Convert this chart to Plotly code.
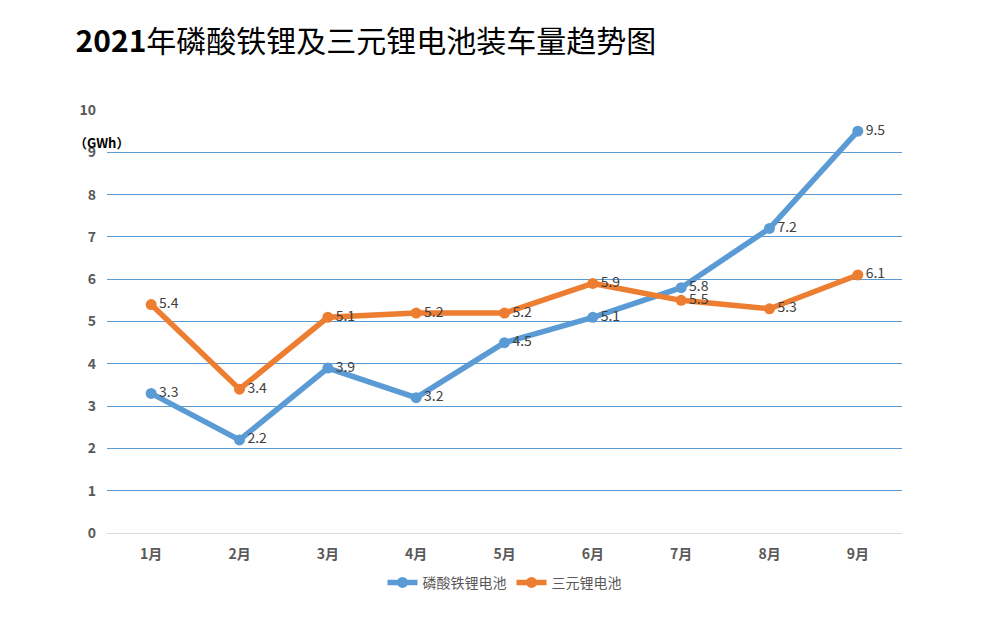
import plotly.graph_objects as go

months = ["1月","2月","3月","4月","5月","6月","7月","8月","9月"]
lfp = [3.3,2.2,3.9,3.2,4.5,5.1,5.8,7.2,9.5]
ncm = [5.4,3.4,5.1,5.2,5.2,5.9,5.5,5.3,6.1]
names = ["磷酸铁锂电池","三元锂电池"]
colors = ["#5B9BD5","#ED7D31"]

fig = go.Figure()
for name, vals, c in [(names[0], lfp, colors[0]), (names[1], ncm, colors[1])]:
    fig.add_trace(go.Scatter(x=months, y=vals, name=name, mode="lines+markers+text",
        line=dict(color=c, width=5.5), marker=dict(size=11, color=c),
        text=[str(v) for v in vals], textposition="middle right",
        textfont=dict(size=14, color="#404040", family="Noto Sans CJK SC")))

fig.update_layout(
    width=1008, height=617, plot_bgcolor="white", paper_bgcolor="white",
    margin=dict(l=99, r=114, t=102, b=92),
    font=dict(family="Noto Sans CJK SC", color="#595959"),
    title=dict(text="<b>2021</b>年磷酸铁锂及三元锂电池装车量趋势图", x=0.067, xanchor="left",
               y=0.945, yanchor="middle", font=dict(size=30, color="black")),
    xaxis=dict(range=[-0.5,8.5], showgrid=False, showline=True, linecolor="#d9d9d9",
               ticks="", tickfont=dict(size=14, color="#595959"), ticklabelstandoff=8),
    yaxis=dict(range=[0,10], dtick=1, showgrid=True, gridcolor="#5B9BD5", gridwidth=1,
               zeroline=False, tickfont=dict(size=14, color="#595959"), ticklabelstandoff=10),
    legend=dict(orientation="h", x=0.5, xanchor="center", y=-0.08, yanchor="top",
                font=dict(size=14, color="#595959")),
    showlegend=True,
)
fig.update_yaxes(tickprefix="<b>", ticksuffix="</b>")
fig.update_xaxes(tickprefix="<b>", ticksuffix="</b>")
fig.add_annotation(text="<b>（GWh）</b>", xref="paper", yref="paper", x=0.03, y=0.95,
                   xanchor="right", showarrow=False, font=dict(size=13, color="black"))
fig.write_html("out.html")
